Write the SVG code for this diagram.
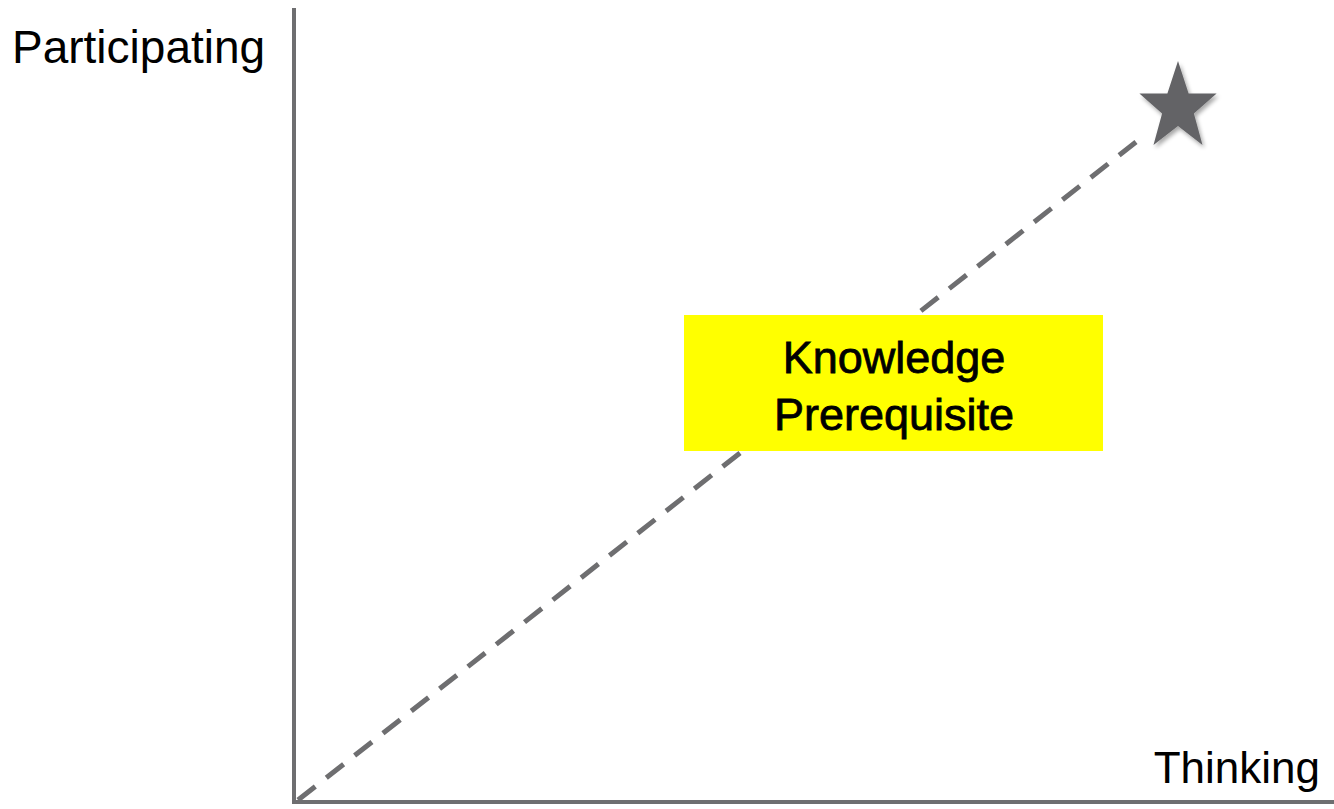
<svg xmlns="http://www.w3.org/2000/svg" width="1334" height="809" viewBox="0 0 1334 809">
  <style>
    .axis { stroke: #6e6e70; stroke-width: 4; fill: none; }
    .trend { stroke: #6e6e70; stroke-width: 5; stroke-dasharray: 22 14; fill: none; }
    .label { font-family: "Liberation Sans", Arial, sans-serif; fill: #000; }
    .box-label { stroke: #000; stroke-width: 0.8; }
  </style>
  <defs>
    <filter id="shadow" x="-30%" y="-30%" width="160%" height="160%">
      <feGaussianBlur in="SourceAlpha" stdDeviation="2"/>
      <feOffset dx="2" dy="3" result="b"/>
      <feComponentTransfer><feFuncA type="linear" slope="0.35"/></feComponentTransfer>
      <feMerge><feMergeNode/><feMergeNode in="SourceGraphic"/></feMerge>
    </filter>
  </defs>
  <rect width="1334" height="809" fill="#fff"/>

  <g id="connectors">
    <line class="trend" x1="298" y1="800" x2="1136" y2="142"/>
  </g>

  <g id="axes">
    <line class="axis" x1="294" y1="8" x2="294" y2="804"/>
    <line class="axis" x1="292" y1="802" x2="1334" y2="802"/>
  </g>

  <g id="axis-y-label">
    <text class="label" x="12" y="63" font-size="46">Participating</text>
  </g>
  <g id="axis-x-label">
    <text class="label" x="1320" y="783" font-size="44" text-anchor="end">Thinking</text>
  </g>

  <g id="goal-star" filter="url(#shadow)">
    <polygon fill="#636366" points="1178,61 1188.6,93.4 1216.6,93.4 1193.9,113.4 1202.5,145 1178,126 1153.5,145 1162.1,113.4 1139.4,93.4 1167.4,93.4"/>
  </g>

  <g id="knowledge-box">
    <rect x="684" y="315" width="419" height="136" fill="#ffff00"/>
    <text class="label box-label" x="894" y="373" font-size="45" text-anchor="middle">Knowledge</text>
    <text class="label box-label" x="894" y="430" font-size="45" text-anchor="middle">Prerequisite</text>
  </g>
</svg>
